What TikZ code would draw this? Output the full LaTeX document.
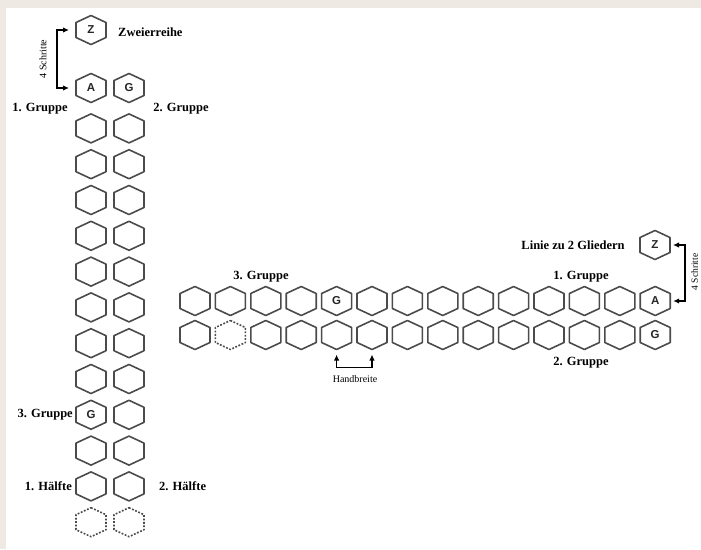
\documentclass[tikz,border=0pt]{standalone}
\usepackage{fontspec}
\setmainfont{Liberation Serif}
\newfontfamily\hexfont{Liberation Sans}
\usetikzlibrary{arrows.meta}
\definecolor{bgbeige}{RGB}{238,234,227}
\definecolor{hexgray}{RGB}{75,75,75}
\makeatletter
\newdimen\hexL \newdimen\hexR \newdimen\hexT \newdimen\hexB
\newdimen\hexC \newdimen\hexU \newdimen\hexD
\pgfdeclareshape{hexcell}{%
  \inheritsavedanchors[from=rectangle]%
  \inheritanchorborder[from=rectangle]%
  \inheritanchor[from=rectangle]{center}%
  \inheritanchor[from=rectangle]{north}%
  \inheritanchor[from=rectangle]{south}%
  \inheritanchor[from=rectangle]{east}%
  \inheritanchor[from=rectangle]{west}%
  \backgroundpath{%
    \southwest \hexL=\pgf@x \hexB=\pgf@y
    \northeast \hexR=\pgf@x \hexT=\pgf@y
    \hexC=.5\hexL \advance\hexC by .5\hexR
    \hexU=\hexT \advance\hexU by -7pt
    \hexD=\hexB \advance\hexD by 7pt
    \pgfpathmoveto{\pgfqpoint{\hexC}{\hexT}}%
    \pgfpathlineto{\pgfqpoint{\hexR}{\hexU}}%
    \pgfpathlineto{\pgfqpoint{\hexR}{\hexD}}%
    \pgfpathlineto{\pgfqpoint{\hexC}{\hexB}}%
    \pgfpathlineto{\pgfqpoint{\hexL}{\hexD}}%
    \pgfpathlineto{\pgfqpoint{\hexL}{\hexU}}%
    \pgfpathclose
  }%
}
\makeatother
\begin{document}
\begin{tikzpicture}[x=1pt,y=-1pt,
  hexbox/.style={shape=hexcell, minimum width=30pt, minimum height=29pt,
    inner sep=0pt, outer sep=0pt, draw=hexgray, line width=1.6pt, line join=round,
    font=\hexfont\bfseries\fontsize{11.5}{11.5}\selectfont, text=black!85},
  ghost/.style={hexbox, draw=hexgray, line width=1.6pt, dash pattern=on 1.8pt off 1.6pt},
  lbl/.style={font=\bfseries\fontsize{12.5}{14}\selectfont, inner sep=0pt},
  small/.style={font=\fontsize{10}{12}\selectfont, inner sep=0pt},
  arr/.style={line width=1.4pt, {Latex[length=6pt,width=5.5pt]}-{Latex[length=6pt,width=5.5pt]}}
]
\fill[bgbeige] (0,0) rectangle (701,549);
\fill[white] (6,7.5) rectangle (701,549);
\useasboundingbox (0,0) rectangle (701,549);

% ---------- left: Zweierreihe ----------
\node[hexbox] (lz) at (91,30) {Z};
\node[hexbox] (la) at (91,88) {A};
\node[hexbox] (lg) at (129,88) {G};
\foreach \i in {0,1,2,3,4,5,6,7,9,10}
  \node[hexbox] (la\i) at (91,{128.4+35.8*\i}) {};
\foreach \i in {0,...,10}
  \node[hexbox] (lb\i) at (129,{128.4+35.8*\i}) {};
\node[hexbox] (la8) at (91,{128.4+35.8*8}) {G};
\node[ghost] (la11) at (91,{128.4+35.8*11}) {};
\node[ghost] (lb11) at (129,{128.4+35.8*11}) {};

\node[lbl, anchor=west] (tzw) at (118,32) {Zweierreihe};
\node[lbl] (tg1) at (40,109) {1. Gruppe};
\node[lbl] (tg2) at (181,109) {2. Gruppe};
\node[lbl, anchor=east] (tg3) at (73,{128.4+35.8*8}) {3. Gruppe};
\node[lbl, anchor=east] (th1) at (72,{128.4+35.8*10}) {1. Hälfte};
\node[lbl, anchor=west] (th2) at (159,{128.4+35.8*10}) {2. Hälfte};

\draw[arr] ([xshift=-7pt]lz.west) -- ++(-12,0) |- ([xshift=-7pt]la.west);
\node[small, rotate=90] (ts1) at (43,59) {4 Schritte};

% ---------- right: Linie zu 2 Gliedern ----------
\foreach \k in {0,1,2,3,5,6,7,8,9,10,11,12}
  \node[hexbox] (t\k) at ({195+35.4*\k},301) {};
\node[hexbox] (t4) at ({195+35.4*4},301) {G};
\node[hexbox] (t13) at ({195+35.4*13},301) {A};
\foreach \k in {0,2,3,4,5,6,7,8,9,10,11,12}
  \node[hexbox] (b\k) at ({195+35.4*\k},335) {};
\node[ghost] (b1) at ({195+35.4*1},335) {};
\node[hexbox] (b13) at ({195+35.4*13},335) {G};
\node[hexbox] (rz) at (655,245) {Z};

\node[lbl] (rg3) at (261,277) {3. Gruppe};
\node[lbl] (rlin) at (573,245) {Linie zu 2 Gliedern};
\node[lbl] (rg1) at (581,277) {1. Gruppe};
\node[lbl] (rg2) at (581,363) {2. Gruppe};

\draw[arr] ([xshift=3pt]rz.east) -- ++(12,0) |- ([xshift=3pt]t13.east);
\node[small, rotate=90, font=\fontsize{9.5}{11}\selectfont] (ts2) at (694.5,272) {4 Schritte};

\draw[arr] ([yshift=-5pt]b4.south) -- ++(0,13) -| ([yshift=-5pt]b5.south);
\node[small] (thb) at (355,379) {Handbreite};
\end{tikzpicture}
\end{document}
